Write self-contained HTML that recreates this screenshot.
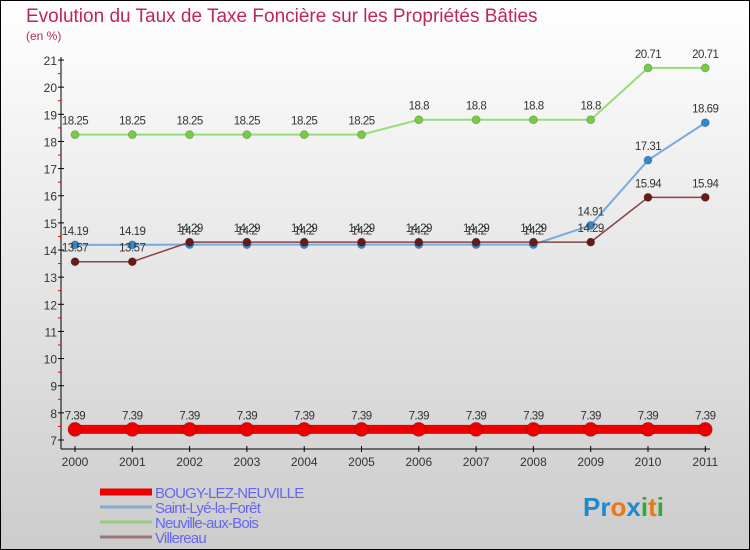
<!DOCTYPE html>
<html><head><meta charset="utf-8"><style>
body{margin:0}
#c{width:750px;height:550px;position:relative;box-sizing:border-box;border:1px solid #000;background:linear-gradient(#fff,#cccccc);font-family:"Liberation Sans",sans-serif;overflow:hidden}
</style></head><body>
<div id="c">
<svg id="s" width="750" height="550" style="position:absolute;left:-1px;top:-1px">
<text x="26" y="22" font-size="19" fill="#c0245c">Evolution du Taux de Taxe Foncière sur les Propriétés Bâties</text>
<text x="26" y="40" font-size="12" fill="#c0245c">(en %)</text>
</svg>
</div>
<script>
const years=["2000","2001","2002","2003","2004","2005","2006","2007","2008","2009","2010","2011"];
const yTicks=[7,8,9,10,11,12,13,14,15,16,17,18,19,20,21];
const bougy=[7.39,7.39,7.39,7.39,7.39,7.39,7.39,7.39,7.39,7.39,7.39,7.39];
const saintLye=[14.19,14.19,14.2,14.2,14.2,14.2,14.2,14.2,14.2,14.91,17.31,18.69];
const neuville=[18.25,18.25,18.25,18.25,18.25,18.25,18.8,18.8,18.8,18.8,20.71,20.71];
const villereau=[13.57,13.57,14.29,14.29,14.29,14.29,14.29,14.29,14.29,14.29,15.94,15.94];
const seriesNames=["BOUGY-LEZ-NEUVILLE","Saint-Lyé-la-Forêt","Neuville-aux-Bois","Villereau"];
const svg=document.getElementById('s');const NS="http://www.w3.org/2000/svg";
const X=i=>75+i*57.3, Y=v=>440-(v-7)*27.14;
function el(t,a,p){const e=document.createElementNS(NS,t);for(const k in a)e.setAttribute(k,a[k]);(p||svg).appendChild(e);return e;}
let e;
e=el('line',{x1:61,y1:57,x2:61,y2:449,stroke:'#000'});


e=el('line',{x1:61,y1:449,x2:710,y2:449,stroke:'#000'});


yTicks.forEach(v=>{
 el('line',{x1:58,y1:Y(v),x2:64,y2:Y(v),stroke:'#000'});
 if(v<21)el('line',{x1:58,y1:Y(v+0.5),x2:61,y2:Y(v+0.5),stroke:'#e00'});
 e=el('text',{x:57,y:Y(v)+5,'text-anchor':'end','font-size':12,fill:'#333'});e.textContent=v;
 
 
});
years.forEach((y,i)=>{
 el('line',{x1:X(i),y1:446,x2:X(i),y2:452,stroke:'#000'});
 e=el('text',{x:X(i),y:466,'text-anchor':'middle','font-size':12,fill:'#333'});e.textContent=y;
 
 
});
function series(data,color,fill,w,r,name){
 const g=el('g',{});
 
 
 el('polyline',{points:data.map((v,i)=>X(i)+','+Y(v)).join(' '),fill:'none',stroke:color,'stroke-width':w},g);
 data.forEach((v,i)=>{
  e=el('circle',{cx:X(i),cy:Y(v),r:r,fill:fill,stroke:'rgba(0,0,0,0.2)'},g);
  
  
  e=el('text',{x:X(i),y:Y(v)-10,'text-anchor':'middle','font-size':11.5,fill:'#333','letter-spacing':'-0.5'},g);e.textContent=v;
  
  
 });
}
series(neuville,'#99dd77','#77cc44',2,4,'series-neuville-aux-bois');
series(saintLye,'#77aadd','#3388cc',2,4,'series-saint-lye-la-foret');
series(villereau,'#884444','#661a1a',1.5,4,'series-villereau');
series(bougy,'#ee0000','#ee0000',9,7,'series-bougy-lez-neuville');
const lc=['#ee0000','#88aacc','#99cc77','#997777'],lw=[7,3,3,3];
seriesNames.forEach((n,i)=>{
 const yy=492+i*15;
 e=el('line',{x1:100,y1:yy,x2:152,y2:yy,stroke:lc[i],'stroke-width':lw[i]});
 
 
 e=el('text',{x:155,y:yy+6,'font-size':15,fill:'#6666ee','letter-spacing':'-0.8'});e.textContent=n;
 
 
});
const logo=[['P','#2288cc'],['r','#2288cc'],['o','#ee7711'],['x','#2288cc'],['i','#33aa33'],['t','#ee7711'],['i','#33aa33']];
e=el('text',{x:583,y:516,'font-size':26,'font-weight':'bold'});


logo.forEach(([c,col])=>{const t=el('tspan',{fill:col},e);t.textContent=c;});
</script>
</body></html>
